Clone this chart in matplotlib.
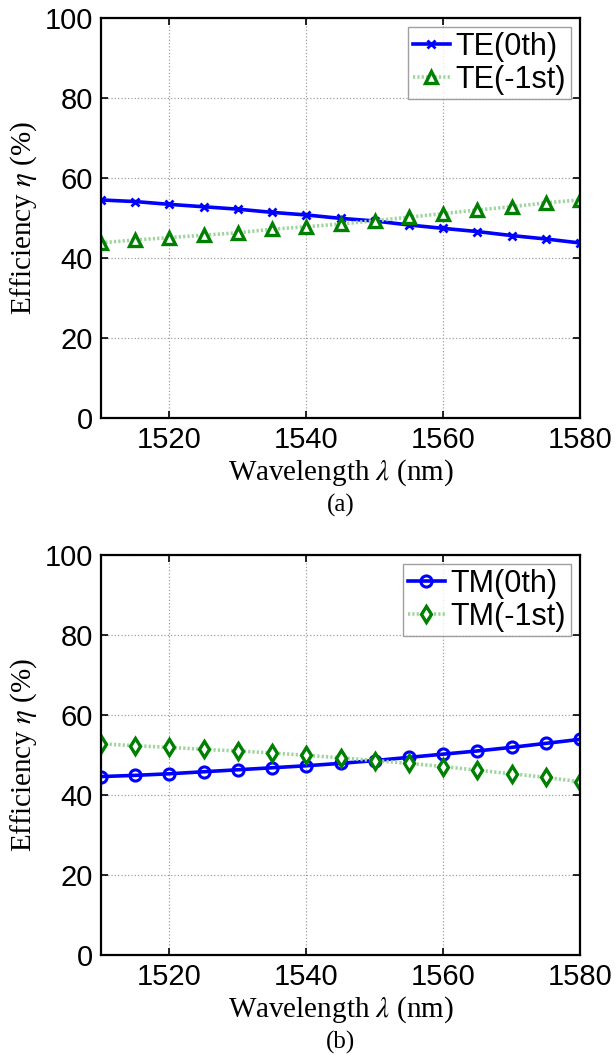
import matplotlib
matplotlib.use("Agg")
import matplotlib.pyplot as plt

wavelength = [1510, 1515, 1520, 1525, 1530, 1535, 1540, 1545, 1550, 1555, 1560, 1565, 1570, 1575, 1580]

te0 = [54.5, 54.1, 53.4, 52.8, 52.2, 51.4, 50.75, 49.9, 49.25, 48.25, 47.4, 46.6, 45.6, 44.75, 43.75]
te1 = [43.8, 44.5, 45.1, 45.7, 46.3, 47.2, 47.8, 48.5, 49.3, 50.2, 51.1, 52.0, 52.8, 53.8, 54.5]

tm0 = [44.6, 44.9, 45.3, 45.8, 46.3, 46.8, 47.3, 47.9, 48.6, 49.4, 50.2, 51.0, 51.9, 52.9, 53.9]
tm1 = [52.8, 52.3, 51.9, 51.4, 51.0, 50.5, 49.9, 49.3, 48.6, 47.9, 47.1, 46.2, 45.3, 44.4, 43.3]

xticks = [1520, 1540, 1560, 1580]
yticks = [0, 20, 40, 60, 80, 100]

plt.rcParams['font.family'] = ['Liberation Sans', 'DejaVu Sans']
plt.rcParams['mathtext.fontset'] = 'stix'

BLUE = '#0000ff'
GREEN = '#008000'
LIGHTGREEN = '#9ed49e'
SERIF = ['Liberation Serif', 'DejaVu Serif']
DOTS = (0, (0.6, 0.6))

fig = plt.figure(figsize=(6.16, 10.55), dpi=100)
ax1 = fig.add_axes([0.164, 0.6038, 0.7776, 0.3792])
ax2 = fig.add_axes([0.164, 0.0948, 0.7776, 0.3792])


def styleAxes(ax, caption):
    ax.set_xlim(1510, 1580)
    ax.set_ylim(0, 100)
    ax.set_xticks(xticks)
    ax.set_yticks(yticks)
    ax.tick_params(direction='in', length=5, width=1.2, top=True, right=True,
                   labelsize=21, pad=6)
    ax.grid(True, linestyle=':', color='#a0a0a0', linewidth=0.9)
    for sp in ax.spines.values():
        sp.set_linewidth(1.6)
    ax.set_xlabel(r'Wavelength $\lambda$ (nm)', fontsize=21, family=SERIF, labelpad=2)
    ax.set_ylabel(r'Efficiency $\eta$ (%)', fontsize=21, family=SERIF, labelpad=4)
    ax.text(0.5, -0.218, caption, transform=ax.transAxes, ha='center', va='center',
            fontsize=18, family=SERIF)
    leg = ax.legend(loc='upper right', fontsize=22, frameon=True, fancybox=False,
                    handlelength=1.2, handletextpad=0.2, borderpad=0.15,
                    labelspacing=0.1, borderaxespad=0.3)
    leg.get_frame().set_edgecolor('#888888')
    leg.get_frame().set_linewidth(1.0)


ax1.plot(wavelength, te0, color=BLUE, linewidth=2.6, marker='x', markersize=6,
         markeredgewidth=2, label='TE(0th)')
ax1.plot(wavelength, te1, color=LIGHTGREEN, linewidth=2.6, linestyle=DOTS, marker='^',
         markersize=8, markeredgewidth=2.4, markeredgecolor=GREEN, markerfacecolor='white',
         label='TE(-1st)')
styleAxes(ax1, '(a)')

ax2.plot(wavelength, tm0, color=BLUE, linewidth=2.6, marker='o', markersize=8,
         markeredgewidth=2.2, markerfacecolor='none', label='TM(0th)')
ax2.plot(wavelength, tm1, color=LIGHTGREEN, linewidth=2.6, linestyle=DOTS, marker='d',
         markersize=8, markeredgewidth=2.4, markeredgecolor=GREEN, markerfacecolor='white',
         label='TM(-1st)')
styleAxes(ax2, '(b)')

fig.savefig('out.png', dpi=100)
